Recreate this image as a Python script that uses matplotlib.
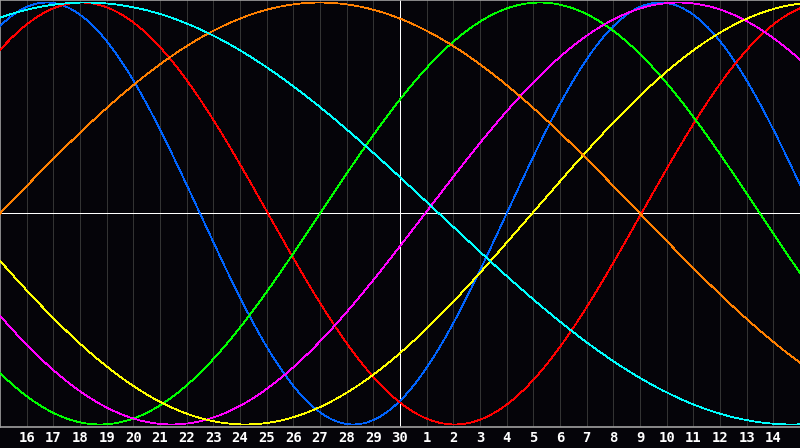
import matplotlib

matplotlib.use("Agg")
import matplotlib.pyplot as plt
import numpy as np

# day labels under each vertical grid line (left edge is day 15, centre line is day 30)
day_labels = [str(d) for d in range(16, 31)] + [str(d) for d in range(1, 15)]
n_days = 30

# cycle lengths (days) and position in each cycle at the left edge
cycle_names = ["physical", "emotional", "intellectual", "intuitive", "aesthetic", "awareness", "spiritual"]
cycle_length = [23, 28, 33, 38, 43, 48, 53]
phase_at_left = [4.0, 3.95, 21.0, 22.06, 23.05, 0.0, 10.04]
cycle_colors = ["#0064ff", "#ff0000", "#00ff00", "#ff00ff", "#ffff00", "#ff8000", "#00ffff"]

BG = "#050409"

fig = plt.figure(figsize=(8.0, 4.48), dpi=100, facecolor=BG)
ax = fig.add_axes([0.0, 21 / 448, 1.0, 427 / 448])
ax.set_facecolor(BG)

for k in range(1, n_days):
    if k == 15:
        continue
    ax.axvline(k, color="#333333", lw=0.5, zorder=1, antialiased=False)
ax.axvline(15, color="white", lw=0.5, zorder=1, antialiased=False)
ax.axhline(0, color="white", lw=0.5, zorder=1, antialiased=False)

days = np.linspace(0, n_days, 1200)
for length, phase, color in zip(cycle_length, phase_at_left, cycle_colors):
    ax.plot(days, np.sin(2 * np.pi * (days + phase) / length), color=color,
            lw=0.55, zorder=3, antialiased=False)

ax.set_xlim(0, n_days)
ax.set_ylim(-1.012, 1.012)
ax.set_xticks(range(1, n_days))
ax.set_xticklabels(day_labels)
ax.tick_params(axis="x", length=0, pad=3, colors="white", labelsize=10)
ax.set_yticks([])
for lab in ax.get_xticklabels():
    lab.set_fontfamily("DejaVu Sans Mono")
    lab.set_fontweight("bold")

for side in ("left", "top", "bottom"):
    ax.spines[side].set_color("#a0a0a0")
    ax.spines[side].set_linewidth(1.2)
ax.spines["right"].set_visible(False)

fig.savefig("out.png", dpi=100, facecolor=BG)
